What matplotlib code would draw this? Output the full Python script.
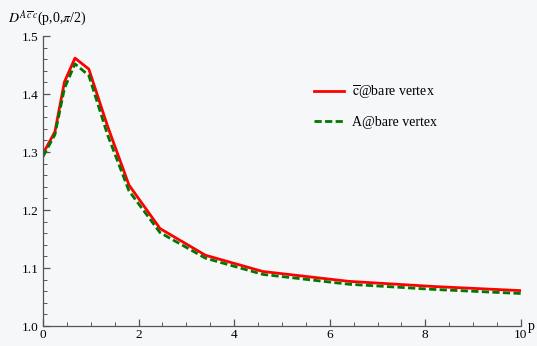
import matplotlib
matplotlib.use("Agg")
import matplotlib.pyplot as plt
from matplotlib.ticker import MultipleLocator

plt.rcParams['font.family'] = ['Liberation Serif', 'DejaVu Serif']
plt.rcParams['mathtext.fontset'] = 'stix'

# values
p = [0, 0.25, 0.45, 0.67, 0.96, 1.35, 1.8, 2.45, 3.4, 4.6, 6.4, 8.2, 10]
cbar_bare = [1.297, 1.335, 1.421, 1.462, 1.443, 1.345, 1.243, 1.168, 1.122,
             1.094, 1.077, 1.068, 1.061]
a_bare = [1.292, 1.330, 1.410, 1.452, 1.432, 1.330, 1.233, 1.161, 1.117,
          1.089, 1.072, 1.063, 1.056]

bg = '#f6f7f9'
fig = plt.figure(figsize=(5.37, 3.46), dpi=100, facecolor=bg)
ax = fig.add_axes([0.080, 0.0578, 0.890, 0.838], facecolor=bg)

ax.plot(p, cbar_bare, color='#ff0000', lw=2.0, label=r'$\overline{\mathrm{c}}$@bare vertex')
ax.plot(p, a_bare, color='#007700', lw=2.0, ls=(0, (2.6, 1.2)), label='A@bare vertex')

ax.set_xlim(0, 10)
ax.set_ylim(1.0, 1.5)
ax.xaxis.set_minor_locator(MultipleLocator(0.5))
ax.yaxis.set_minor_locator(MultipleLocator(0.02))
ax.set_yticks([1.0, 1.1, 1.2, 1.3, 1.4, 1.5])
ax.set_yticklabels(['1.0', '1.1', '1.2', '1.3', '1.4', '1.5'])
ax.set_xticks([0, 2, 4, 6, 8, 10])
ax.set_xticklabels(['0', '2', '4', '6', '8', '10'])

for s in ['top', 'right']:
    ax.spines[s].set_visible(False)
for s in ['left', 'bottom']:
    ax.spines[s].set_color('#555555')
    ax.spines[s].set_linewidth(0.9)
ax.tick_params(which='major', direction='in', length=5, width=0.9, color='#555555',
               labelsize=9.5)
ax.tick_params(axis='x', which='major', pad=2.5)
ax.tick_params(axis='y', which='major', pad=3)
ax.tick_params(which='minor', direction='in', length=3, width=0.7, color='#555555')

ax.text(1.014, 0.0, 'p', transform=ax.transAxes, fontsize=10, va='center', ha='left')
fig.text(0.015, 0.975, r'$D^{A\,\overline{c}\,c}$(p,0,$\pi$/2)', fontsize=10,
         va='top', ha='left')

ax.legend(loc='upper left', bbox_to_anchor=(0.54, 0.88), frameon=False, fontsize=10,
          handlelength=2.2, labelspacing=1.1, handletextpad=0.6)

fig.savefig('out.png', dpi=100, facecolor=bg)
